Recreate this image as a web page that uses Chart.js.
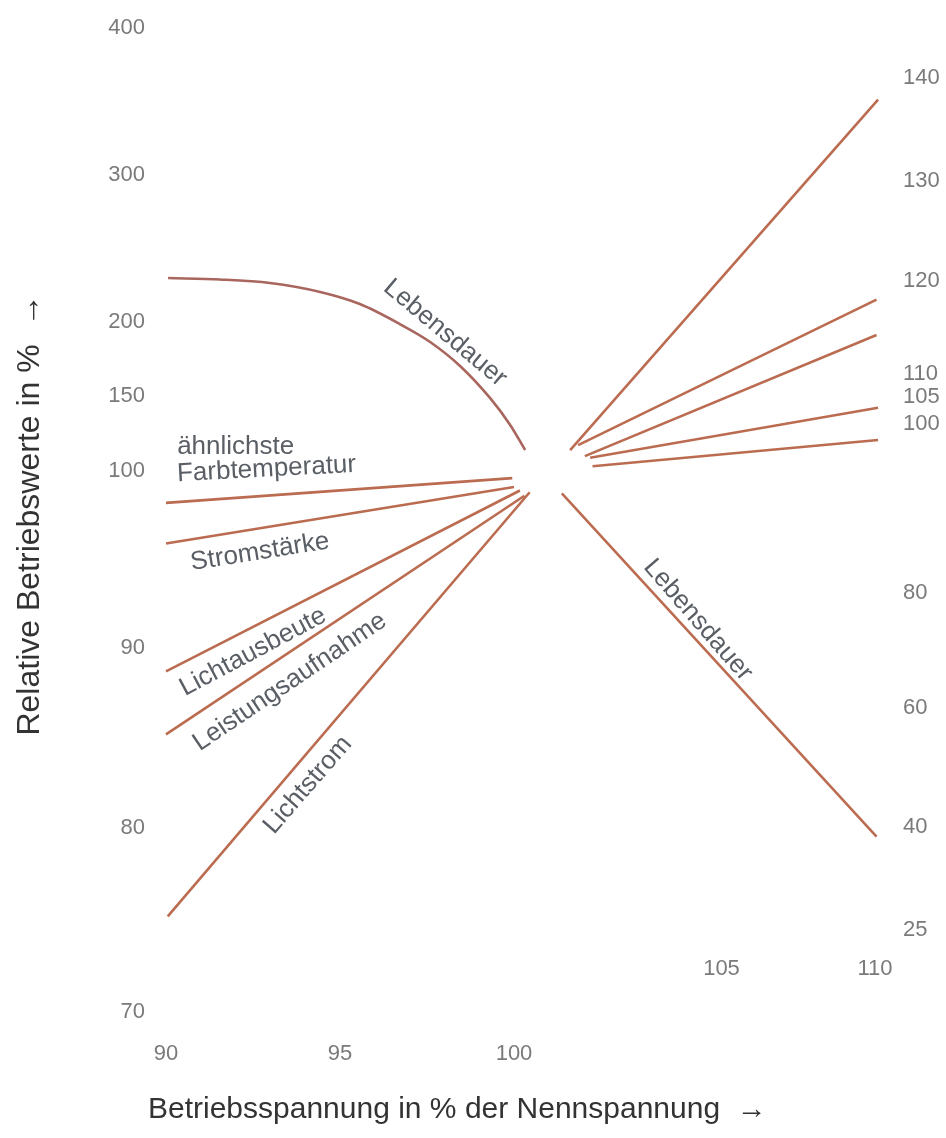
<!DOCTYPE html>
<html>
<head>
<meta charset="utf-8">
<script src="https://cdn.jsdelivr.net/npm/chart.js@4.4.1/dist/chart.umd.min.js"></script>
<style>
html,body{margin:0;padding:0;background:#ffffff;}
#wrap{width:946px;height:1138px;position:relative;}
</style>
</head>
<body>
<div id="wrap"><canvas id="c"></canvas></div>
<script>
// ---------- tick labels ----------
const xTicksLeft = [90, 95, 100];
const xTicksRight = [105, 110];
const yTicksLeft = [70, 80, 90, 100, 150, 200, 300, 400];
const yTicksRight = [25, 40, 60, 80, 100, 105, 110, 120, 130, 140];

// ---------- left panel (90 ... 100 % voltage) ----------
const lebensdauerLeftX = [90.06, 91.55, 92.99, 94.43, 95.57, 96.72, 97.59, 98.45, 99.31, 99.89, 100.32];
const lebensdauerLeftY = [229.9, 228.9, 226.5, 220.4, 212.2, 198.6, 186.5, 170.3, 148.7, 130.7, 114];
const farbtemperaturLeftX = [90, 99.95];
const farbtemperaturLeftY = [98.2, 99.6];
const stromstaerkeLeftX = [90, 100.0];
const stromstaerkeLeftY = [95.9, 99.1];
const lichtausbeuteLeftX = [90, 100.17];
const lichtausbeuteLeftY = [88.7, 98.9];
const leistungLeftX = [90, 100.3];
const leistungLeftY = [85.2, 98.6];
const lichtstromLeftX = [90.05, 100.45];
const lichtstromLeftY = [75.2, 98.8];

// ---------- right panel (100 ... 110 % voltage) ----------
const lichtstromRightX = [100.07, 110.1];
const lichtstromRightY = [96.9, 137.9];
const lichtausbeuteRightX = [100.33, 110.05];
const lichtausbeuteRightY = [97.5, 118];
const leistungRightX = [100.55, 110.05];
const leistungRightY = [96.2, 114.2];
const farbtemperaturRightX = [100.72, 110.1];
const farbtemperaturRightY = [96.0, 103.0];
const stromstaerkeRightX = [100.8, 110.1];
const stromstaerkeRightY = [95.0, 98.1];
const lebensdauerRightX = [99.8, 110.05];
const lebensdauerRightY = [91.8, 38.6];

// ---------- texts ----------
const yTitle = 'Relative Betriebswerte in %  \u2192';
const xTitle = 'Betriebsspannung in % der Nennspannung  \u2192';

// ---------- piecewise (anchored) scale ----------
class AnchoredScale extends Chart.LinearScale {
  _anch() { return this.options.anchors; }
  getPixelForValue(v) {
    const a = this._anch();
    if (v === null || v === undefined || isNaN(v)) return NaN;
    let i = 0;
    while (i < a.length - 2 && v > a[i + 1][0]) i++;
    const v0 = a[i][0], p0 = a[i][1], v1 = a[i + 1][0], p1 = a[i + 1][1];
    return p0 + (v - v0) * (p1 - p0) / (v1 - v0);
  }
  getValueForPixel(p) {
    const a = this._anch();
    const asc = a[a.length - 1][1] > a[0][1];
    let i = 0;
    while (i < a.length - 2 && (asc ? p > a[i + 1][1] : p < a[i + 1][1])) i++;
    const v0 = a[i][0], p0 = a[i][1], v1 = a[i + 1][0], p1 = a[i + 1][1];
    return v0 + (p - p0) * (v1 - v0) / (p1 - p0);
  }
}
AnchoredScale.id = 'anchored';
AnchoredScale.defaults = Chart.LinearScale.defaults;
Chart.register(AnchoredScale);

Chart.defaults.font.family = "'Liberation Sans', Arial, sans-serif";

const pts = (xs, ys) => xs.map((x, i) => ({x: x, y: ys[i]}));

const lineColor = '#bb6c50';
const lifeColor = '#a8665e';

function ds(label, xs, ys, xId, yId, color) {
  return {
    label: label,
    data: pts(xs, ys),
    xAxisID: xId,
    yAxisID: yId,
    borderColor: color,
    borderWidth: 2.6,
    pointRadius: 0,
    fill: false,
    tension: 0,
    clip: false
  };
}

const datasets = [
  Object.assign(ds('Lebensdauer', lebensdauerLeftX, lebensdauerLeftY, 'xL', 'yL', lifeColor), {cubicInterpolationMode: 'monotone'}),
  ds('ähnlichste Farbtemperatur', farbtemperaturLeftX, farbtemperaturLeftY, 'xL', 'yL', lineColor),
  ds('Stromstärke', stromstaerkeLeftX, stromstaerkeLeftY, 'xL', 'yL', lineColor),
  ds('Lichtausbeute', lichtausbeuteLeftX, lichtausbeuteLeftY, 'xL', 'yL', lineColor),
  ds('Leistungsaufnahme', leistungLeftX, leistungLeftY, 'xL', 'yL', lineColor),
  ds('Lichtstrom', lichtstromLeftX, lichtstromLeftY, 'xL', 'yL', lineColor),
  ds('Lichtstrom', lichtstromRightX, lichtstromRightY, 'xR', 'yR', lineColor),
  ds('Lichtausbeute', lichtausbeuteRightX, lichtausbeuteRightY, 'xR', 'yR', lineColor),
  ds('Leistungsaufnahme', leistungRightX, leistungRightY, 'xR', 'yR', lineColor),
  ds('ähnlichste Farbtemperatur', farbtemperaturRightX, farbtemperaturRightY, 'xR', 'yR', lineColor),
  ds('Stromstärke', stromstaerkeRightX, stromstaerkeRightY, 'xR', 'yR', lineColor),
  ds('Lebensdauer', lebensdauerRightX, lebensdauerRightY, 'xR', 'yR', lineColor)
];

const curveLabelPlugin = {
  id: 'curveLabels',
  afterDatasetsDraw(chart, args, opts) {
    const ctx = chart.ctx;
    const items = opts.items || [];
    for (let k = 0; k < items.length; k++) {
      const it = items[k];
      const px = chart.scales[it.xAxis].getPixelForValue(it.x);
      const py = chart.scales[it.yAxis].getPixelForValue(it.y);
      ctx.save();
      ctx.translate(px, py);
      ctx.rotate(it.angle * Math.PI / 180);
      ctx.font = opts.size + 'px ' + opts.family;
      ctx.fillStyle = opts.color;
      ctx.textAlign = it.align || 'center';
      ctx.textBaseline = 'middle';
      ctx.fillText(it.text, 0, 0);
      ctx.restore();
    }
  }
};

const tickFont = {size: 22};
const tickColor = '#7a7a7a';
const noGrid = {display: false, drawTicks: false};
const noBorder = {display: false};
function fixBox(w, h) {
  return s => {
    if (w !== null) s.width = w;
    if (h !== null) s.height = h;
    s.paddingLeft = 0; s.paddingRight = 0; s.paddingTop = 0; s.paddingBottom = 0;
  };
}

new Chart(document.getElementById('c'), {
  type: 'line',
  data: {datasets: datasets},
  plugins: [curveLabelPlugin],
  options: {
    responsive: true,
    maintainAspectRatio: false,
    animation: false,
    events: [],
    layout: {padding: {left: 8, top: 76, right: 0, bottom: 0}},
    plugins: {
      legend: {display: false},
      tooltip: {enabled: false},
      curveLabels: {
        size: 26,
        family: "'Liberation Sans', Arial, sans-serif",
        color: '#5a5f66',
        items: [
          {text: 'Lebensdauer', xAxis: 'xL', yAxis: 'yL', x: 98.02, y: 192.6, angle: 40},
          {text: 'ähnlichste', xAxis: 'xL', yAxis: 'yL', x: 90.32, y: 116, angle: 0, align: 'left'},
          {text: 'Farbtemperatur', xAxis: 'xL', yAxis: 'yL', x: 90.32, y: 99.83, angle: -3, align: 'left'},
          {text: 'Stromstärke', xAxis: 'xL', yAxis: 'yL', x: 92.7, y: 95.42, angle: -9},
          {text: 'Lichtausbeute', xAxis: 'xL', yAxis: 'yL', x: 92.5, y: 89.78, angle: -28},
          {text: 'Leistungsaufnahme', xAxis: 'xL', yAxis: 'yL', x: 93.56, y: 88.11, angle: -34},
          {text: 'Lichtstrom', xAxis: 'xL', yAxis: 'yL', x: 94.08, y: 82.39, angle: -49},
          {text: 'Lebensdauer', xAxis: 'xR', yAxis: 'yR', x: 104.23, y: 75.3, angle: 49}
        ]
      }
    },
    scales: {
      yL: {
        type: 'anchored', position: 'left', min: 70, max: 400,
        anchors: [[70, 1012], [80, 828], [90, 648], [100, 471], [150, 396], [200, 322], [300, 175], [400, 28]],
        afterBuildTicks: s => { s.ticks = yTicksLeft.map(v => ({value: v})); },
        afterFit: fixBox(140, null),
        ticks: {autoSkip: false, padding: 3, font: tickFont, color: tickColor, callback: v => String(v)},
        grid: noGrid, border: noBorder,
        title: {display: true, text: yTitle, color: '#333333', font: {size: 32}, padding: {top: 3, bottom: 3}}
      },
      yR: {
        type: 'anchored', position: 'right', min: 25, max: 140,
        anchors: [[25, 930], [40, 827], [60, 708], [80, 593], [100, 424], [105, 397], [110, 374], [120, 281], [130, 181], [140, 78]],
        afterBuildTicks: s => { s.ticks = yTicksRight.map(v => ({value: v})); },
        afterFit: fixBox(46, null),
        ticks: {autoSkip: false, padding: 3, font: tickFont, color: tickColor, callback: v => String(v)},
        grid: noGrid, border: noBorder
      },
      xR: {
        type: 'anchored', position: 'bottom', weight: 0, min: 100, max: 110,
        anchors: [[100, 568], [110, 875]],
        afterBuildTicks: s => { s.ticks = xTicksRight.map(v => ({value: v})); },
        afterFit: fixBox(null, 30),
        ticks: {autoSkip: false, maxRotation: 0, padding: 2, font: tickFont, color: tickColor, callback: v => String(v)},
        grid: noGrid, border: noBorder
      },
      xL: {
        type: 'anchored', position: 'bottom', weight: 1, min: 90, max: 100,
        anchors: [[90, 166], [100, 514]],
        afterBuildTicks: s => { s.ticks = xTicksLeft.map(v => ({value: v})); },
        afterFit: fixBox(null, 154),
        ticks: {autoSkip: false, maxRotation: 0, padding: 57, font: tickFont, color: tickColor, callback: v => String(v)},
        grid: noGrid, border: noBorder,
        title: {display: true, text: xTitle, align: 'start', color: '#333333', font: {size: 30}, padding: {top: 0, bottom: 10}}
      }
    }
  }
});
</script>
</body>
</html>
